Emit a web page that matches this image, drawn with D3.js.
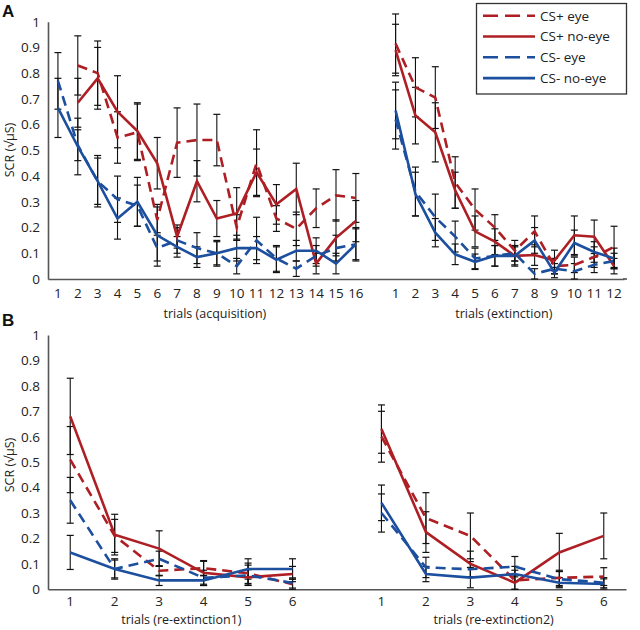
<!DOCTYPE html>
<html>
<head>
<meta charset="utf-8">
<script src="https://cdn.jsdelivr.net/npm/d3@7"></script>
<style>
  html, body { margin: 0; padding: 0; background: #fff; }
  svg { display: block; font-family: "Open Sans", "Noto Sans", sans-serif; }
</style>
</head>
<body>
<svg id="chart" width="640" height="630"></svg>
<script>
// ---------- data ----------
const seriesNames = ["CS+ eye", "CS+ no-eye", "CS- eye", "CS- no-eye"];
const yTicks = [0, 0.1, 0.2, 0.3, 0.4, 0.5, 0.6, 0.7, 0.8, 0.9, 1];

const acqTrials = ["1","2","3","4","5","6","7","8","9","10","11","12","13","14","15","16"];
const extTrials = ["1","2","3","4","5","6","7","8","9","10","11","12"];
const reTrials  = ["1","2","3","4","5","6"];

// acquisition
const acqCSpEye    = [null, 0.83, 0.80, 0.55, 0.57, 0.23, 0.53, 0.54, 0.54, 0.20, 0.45, 0.235, 0.195, 0.275, 0.325, 0.315];
const acqCSpNoEye  = [null, 0.685, 0.78, 0.65, 0.575, 0.45, 0.165, 0.38, 0.235, 0.255, 0.415, 0.29, 0.35, 0.06, 0.16, 0.225];
const acqCSmEye    = [0.77, 0.52, 0.38, 0.31, 0.285, 0.12, 0.15, 0.12, 0.10, 0.05, 0.15, 0.08, 0.04, 0.09, 0.12, 0.135];
const acqCSmNoEye  = [0.665, 0.515, 0.38, 0.235, 0.30, 0.17, 0.125, 0.085, 0.10, 0.12, 0.12, 0.075, 0.11, 0.11, 0.06, 0.135];
const acqErrCSpEye   = [null, 0.115, 0.125, 0.10, 0.11, 0.05, 0.135, 0.14, 0.10, 0.05, 0.13, 0.05, 0.065, 0.075, 0.10, 0.095];
const acqErrCSpNoEye = [null, 0.095, 0.12, 0.14, 0.11, 0.10, 0.045, 0.08, 0.07, 0.10, 0.09, 0.077, 0.10, 0.04, 0.07, 0.08];
const acqErrCSmEye   = [0.11, 0.06, 0.09, 0.09, 0.08, 0.05, 0.05, 0.06, 0.05, 0.03, 0.09, 0.05, 0.03, 0.04, 0.05, 0.06];
const acqErrCSmNoEye = [0.115, 0.11, 0.10, 0.08, 0.095, 0.12, 0.04, 0.04, 0.045, 0.05, 0.045, 0.05, 0.04, 0.05, 0.04, 0.065];

// extinction
const extCSpEye    = [0.915, 0.745, 0.705, 0.375, 0.27, 0.20, 0.11, 0.185, 0.05, 0.055, 0.085, 0.125];
const extCSpNoEye  = [0.89, 0.635, 0.57, 0.345, 0.185, 0.145, 0.09, 0.093, 0.072, 0.17, 0.164, 0.05];
const extCSmEye    = [0.62, 0.34, 0.24, 0.165, 0.08, 0.09, 0.10, 0.02, 0.04, 0.03, 0.055, 0.07];
const extCSmNoEye  = [0.655, 0.33, 0.18, 0.096, 0.067, 0.09, 0.09, 0.15, 0.025, 0.14, 0.105, 0.08];
const extErrCSpEye   = [0.115, 0.115, 0.12, 0.10, 0.08, 0.05, 0.04, 0.06, 0.03, 0.03, 0.04, 0.08];
const extErrCSpNoEye = [0.10, 0.11, 0.115, 0.07, 0.06, 0.05, 0.04, 0.04, 0.04, 0.075, 0.065, 0.03];
const extErrCSmEye   = [0.115, 0.095, 0.09, 0.06, 0.04, 0.04, 0.03, 0.02, 0.02, 0.03, 0.03, 0.03];
const extErrCSmNoEye = [0.11, 0.085, 0.055, 0.04, 0.03, 0.04, 0.035, 0.05, 0.02, 0.05, 0.04, 0.04];

// re-extinction 1
const re1CSpEye    = [0.51, 0.21, 0.073, 0.083, 0.063, 0.02];
const re1CSpNoEye  = [0.68, 0.215, 0.16, 0.065, 0.047, 0.06];
const re1CSmEye    = [0.35, 0.08, 0.12, 0.045, 0.055, 0.025];
const re1CSmNoEye  = [0.145, 0.08, 0.035, 0.035, 0.08, 0.08];
const re1ErrCSpEye   = [0.13, 0.065, 0.02, 0.03, 0.04, 0.02];
const re1ErrCSpNoEye = [0.15, 0.08, 0.07, 0.045, 0.03, 0.03];
const re1ErrCSmEye   = [0.09, 0.04, 0.03, 0.03, 0.04, 0.02];
const re1ErrCSmNoEye = [0.067, 0.035, 0.02, 0.02, 0.04, 0.04];

// re-extinction 2
const re2CSpEye    = [0.60, 0.28, 0.21, 0.035, 0.045, 0.05];
const re2CSpNoEye  = [0.63, 0.225, 0.10, 0.026, 0.145, 0.21];
const re2CSmEye    = [0.30, 0.086, 0.079, 0.089, 0.04, 0.026];
const re2CSmNoEye  = [0.34, 0.06, 0.046, 0.06, 0.026, 0.021];
const re2ErrCSpEye   = [0.10, 0.10, 0.09, 0.04, 0.03, 0.035];
const re2ErrCSpNoEye = [0.095, 0.08, 0.05, 0.03, 0.075, 0.09];
const re2ErrCSmEye   = [0.075, 0.04, 0.03, 0.04, 0.03, 0.02];
const re2ErrCSmNoEye = [0.07, 0.03, 0.04, 0.03, 0.02, 0.02];

// ---------- styling ----------
const RED = "#ad1f24", BLUE = "#1d4f9f";
const styles = [
  { color: RED,  dash: "10,6" },
  { color: RED,  dash: null },
  { color: BLUE, dash: "10,6" },
  { color: BLUE, dash: null }
];
const svg = d3.select("#chart");
const FONT_TICK = 13.5, FONT_TITLE = 12.5;

function drawPanel(cfg) {
  const g = svg.append("g");
  const cats = [];
  cfg.groups[0].trials.forEach((t, i) => cats.push("a" + i));
  for (let k = 0; k < cfg.gap; k++) cats.push("gap" + k);
  cfg.groups[1].trials.forEach((t, i) => cats.push("b" + i));
  const x = d3.scaleBand().domain(cats).range([cfg.x0, cfg.x1]).paddingInner(0).paddingOuter(0);
  const cx = k => x(k) + x.bandwidth() / 2;
  const y = d3.scaleLinear().domain([0, 1]).range([cfg.yBottom, cfg.yTop]);

  // y axis
  const yAxis = d3.axisLeft(y).tickValues(yTicks).tickSize(0).tickPadding(8)
    .tickFormat(d => d3.format("~g")(d));
  const ya = g.append("g").attr("transform", `translate(${cfg.x0},0)`).call(yAxis);
  ya.select(".domain").attr("stroke", "#555").attr("stroke-width", 1.6);
  ya.selectAll("text").attr("font-size", FONT_TICK).attr("fill", "#222")
    .attr("font-family", '"Open Sans", sans-serif');

  // x axis
  const xAxis = d3.axisBottom(x).tickSize(0).tickPadding(cfg.xPad)
    .tickFormat(k => {
      if (k.startsWith("a")) return cfg.groups[0].trials[+k.slice(1)];
      if (k.startsWith("b")) return cfg.groups[1].trials[+k.slice(1)];
      return "";
    });
  const xa = g.append("g").attr("transform", `translate(0,${cfg.yBottom})`).call(xAxis);
  xa.select(".domain").attr("stroke", "#555").attr("stroke-width", 1.6);
  xa.selectAll("text").attr("font-size", FONT_TICK).attr("fill", "#222")
    .attr("font-family", '"Open Sans", sans-serif');

  // y title
  g.append("text").attr("transform", `translate(${14},${cfg.yTitleY}) rotate(-90)`)
    .attr("text-anchor", "middle").attr("font-size", 12.5).attr("fill", "#222")
    .text("SCR (\u221A\u03BCS)");

  // x titles
  cfg.groups.forEach((grp, gi) => {
    const pre = gi === 0 ? "a" : "b";
    const first = cx(pre + 0), last = cx(pre + (grp.trials.length - 1));
    g.append("text").attr("x", (first + last) / 2 + grp.titleShift).attr("y", cfg.titleY)
      .attr("text-anchor", "middle").attr("font-size", FONT_TITLE).attr("fill", "#222")
      .text(grp.title);
  });

  // series
  cfg.groups.forEach((grp, gi) => {
    const pre = gi === 0 ? "a" : "b";
    grp.series.forEach((vals, si) => {
      const errs = grp.errors[si];
      vals.forEach((v, i) => {
        if (v == null || errs[i] == null) return;
        const xx = cx(pre + i);
        const y1 = y(v + errs[i]), y2 = y(Math.max(0, v - errs[i]));
        g.append("line").attr("x1", xx).attr("x2", xx).attr("y1", y1).attr("y2", y2)
          .attr("stroke", "#111").attr("stroke-width", 1.1);
        [y1, y2].forEach(yy => g.append("line").attr("x1", xx - 3.5).attr("x2", xx + 3.5)
          .attr("y1", yy).attr("y2", yy).attr("stroke", "#111").attr("stroke-width", 1.2));
      });
    });
    grp.series.forEach((vals, si) => {
      const line = d3.line().defined(d => d.v != null).x(d => cx(pre + d.i)).y(d => y(d.v));
      g.append("path").datum(vals.map((v, i) => ({ v, i })))
        .attr("d", line).attr("fill", "none")
        .attr("stroke", styles[si].color).attr("stroke-width", 2.6)
        .attr("stroke-linejoin", "miter")
        .attr("stroke-dasharray", styles[si].dash);
    });
  });
}

drawPanel({
  x0: 48, x1: 624, yBottom: 279, yTop: 21.7, yTitleY: 150, titleY: 318, gap: 1, xPad: 9.5,
  groups: [
    { trials: acqTrials, title: "trials (acquisition)", titleShift: 8,
      series: [acqCSpEye, acqCSpNoEye, acqCSmEye, acqCSmNoEye],
      errors: [acqErrCSpEye, acqErrCSpNoEye, acqErrCSmEye, acqErrCSmNoEye] },
    { trials: extTrials, title: "trials (extinction)", titleShift: -1,
      series: [extCSpEye, extCSpNoEye, extCSmEye, extCSmNoEye],
      errors: [extErrCSpEye, extErrCSpNoEye, extErrCSmEye, extErrCSmNoEye] }
  ]
});
svg.append("line").attr("x1", 623).attr("x2", 627).attr("y1", 279).attr("y2", 279)
  .attr("stroke", "#555").attr("stroke-width", 1.6);

drawPanel({
  x0: 48, x1: 626, yBottom: 589.3, yTop: 335, yTitleY: 465, titleY: 624, gap: 1, xPad: 7,
  groups: [
    { trials: reTrials, title: "trials (re-extinction1)", titleShift: 0,
      series: [re1CSpEye, re1CSpNoEye, re1CSmEye, re1CSmNoEye],
      errors: [re1ErrCSpEye, re1ErrCSpNoEye, re1ErrCSmEye, re1ErrCSmNoEye] },
    { trials: reTrials, title: "trials (re-extinction2)", titleShift: 1,
      series: [re2CSpEye, re2CSpNoEye, re2CSmEye, re2CSmNoEye],
      errors: [re2ErrCSpEye, re2ErrCSpNoEye, re2ErrCSmEye, re2ErrCSmNoEye] }
  ]
});

// panel letters
svg.append("text").attr("x", 2).attr("y", 17).attr("font-size", 17).attr("font-weight", "bold")
  .attr("font-family", "Arial, 'Liberation Sans', sans-serif").attr("fill", "#111").text("A");
svg.append("text").attr("x", 2).attr("y", 326).attr("font-size", 17).attr("font-weight", "bold")
  .attr("font-family", "Arial, 'Liberation Sans', sans-serif").attr("fill", "#111").text("B");

// legend
const leg = svg.append("g");
leg.append("rect").attr("x", 476.5).attr("y", 3.5).attr("width", 150).attr("height", 90.5)
  .attr("fill", "#fff").attr("stroke", "#333").attr("stroke-width", 1.3);
seriesNames.forEach((name, i) => {
  const yy = 15.7 + i * 20.8;
  leg.append("line").attr("x1", 483).attr("x2", 535).attr("y1", yy).attr("y2", yy)
    .attr("stroke", styles[i].color).attr("stroke-width", 2.6)
    .attr("stroke-dasharray", styles[i].dash ? "15,7" : null);
  leg.append("text").attr("x", 540).attr("y", yy + 4.8).attr("font-size", 13.5)
    .attr("fill", "#222").text(name);
});
</script>
</body>
</html>
